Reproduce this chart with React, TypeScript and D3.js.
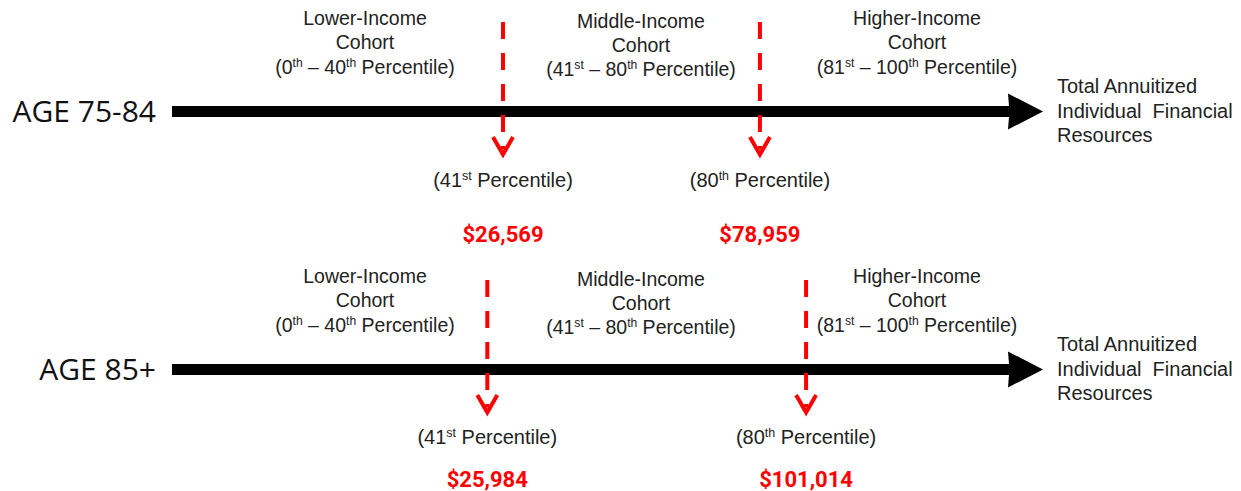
import React from 'react'
import * as d3 from 'd3'

// rows of the schematic
const rowLabels = ['AGE 75-84', 'AGE 85+'];

// cohort captions above each axis ({..} = superscript)
const cohortNames = ['Lower-Income', 'Middle-Income', 'Higher-Income'];
const cohortRanges = [
  '(0{th} – 40{th} Percentile)',
  '(41{st} – 80{th} Percentile)',
  '(81{st} – 100{th} Percentile)'
];

// cut-off markers: schematic position along the axis (0-100) and the dollar value
const markerLabels = ['(41{st} Percentile)', '(80{th} Percentile)'];
const markerAxisPos = [
  [38.0, 67.5],
  [36.2, 72.8]
];
const markerValues = [
  [26569, 78959],
  [25984, 101014]
];

const axisTitle = ['Total Annuitized', 'Individual  Financial', 'Resources'];

const W = 1241;
const H = 491;
const RED = '#ff0000';
const INK = '#222';
const ARIAL = "'Liberation Sans', Arial, sans-serif";

// per-row vertical offsets (relative to the axis centre line)
const rowLayout = [
  { pctDy: 75.5, valDy: 130.5 },
  { pctDy: 74.5, valDy: 117 }
];
const cohortDy = [0, 2.5, 0];

function SupText({ text, x, y, size, anchor = 'middle', fill = INK }: {
  text: string; x: number; y: number; size: number; anchor?: string; fill?: string;
}) {
  const parts = text.split(/\{(\w+)\}/);
  const shift = size * 0.36;
  let raised = false;
  return (
    <text x={x} y={y} fontSize={size} fontFamily={ARIAL} fill={fill} textAnchor={anchor}
      style={{ whiteSpace: 'pre' }}>
      {parts.map((p, i) => {
        if (p === '') return null;
        const isSup = i % 2 === 1;
        let dy = 0;
        if (isSup && !raised) { dy = -shift; raised = true; }
        else if (!isSup && raised) { dy = shift; raised = false; }
        return (
          <tspan key={i} dy={dy || undefined} fontSize={isSup ? size * 0.62 : undefined}>{p}</tspan>
        );
      })}
    </text>
  );
}

export default function App() {
  const x = d3.scaleLinear().domain([0, 100]).range([172, 1043]);
  const rowY = d3.scalePoint<string>().domain(rowLabels).range([111.5, 369.5]);
  const cohortX = d3.scaleBand<string>().domain(cohortNames).range([227, 1055]);
  const fmt = d3.format('$,');

  const barH = 11;
  const headLen = 35;
  const headHalf = 18;

  return (
    <svg width={W} height={H} style={{ position: 'absolute', left: 0, top: 0, background: '#fff' }}>
      {rowLabels.map((row, r) => {
        const cy = rowY(row)!;
        const x0 = x(0);
        const x1 = x(100);
        const arrowPath = d3.path();
        arrowPath.moveTo(x0, cy - barH / 2);
        arrowPath.lineTo(x1 - headLen + 1, cy - barH / 2);
        arrowPath.lineTo(x1 - headLen, cy - headHalf);
        arrowPath.lineTo(x1, cy);
        arrowPath.lineTo(x1 - headLen, cy + headHalf);
        arrowPath.lineTo(x1 - headLen + 1, cy + barH / 2);
        arrowPath.lineTo(x0, cy + barH / 2);
        arrowPath.closePath();

        return (
          <g key={row}>
            <text x={156} y={cy + 10.5} textAnchor="end" fontSize={30}
              fontFamily="'Open Sans', sans-serif" fill="#111">{row}</text>

            {cohortNames.map((c, i) => {
              const cx = cohortX(c)! + cohortX.bandwidth() / 2;
              const base = cy - 86.5 + cohortDy[i];
              return (
                <g key={c}>
                  <SupText text={c} x={cx} y={base} size={19.5} />
                  <SupText text="Cohort" x={cx} y={base + 24.3} size={19.5} />
                  <SupText text={cohortRanges[i]} x={cx} y={base + 48.6} size={19.5} />
                </g>
              );
            })}

            <path d={arrowPath.toString()} fill="#000" />

            {axisTitle.map((t, i) => (
              <text key={i} x={1057} y={cy - 18.5 + i * 24.5} fontSize={20} fontFamily={ARIAL}
                fill={INK} style={{ whiteSpace: 'pre' }}>{t}</text>
            ))}

            {markerAxisPos[r].map((p, m) => {
              const mx = x(p);
              const chev = d3.line()([
                [mx - 10, cy + 25.5],
                [mx, cy + 43],
                [mx + 10, cy + 25.5]
              ]);
              return (
                <g key={m}>
                  <line x1={mx} x2={mx} y1={cy - 89.5} y2={cy + 38} stroke={RED}
                    strokeWidth={4} strokeDasharray="17,14" />
                  <path d={chev ?? ''} fill="none" stroke={RED} strokeWidth={4} />
                  <SupText text={markerLabels[m]} x={mx} y={cy + rowLayout[r].pctDy} size={20} />
                  <text x={mx} y={cy + rowLayout[r].valDy} textAnchor="middle" fontSize={22}
                    fontWeight={700} fontFamily="Roboto, sans-serif" fill={RED}>
                    {fmt(markerValues[r][m])}
                  </text>
                </g>
              );
            })}
          </g>
        );
      })}
    </svg>
  );
}
